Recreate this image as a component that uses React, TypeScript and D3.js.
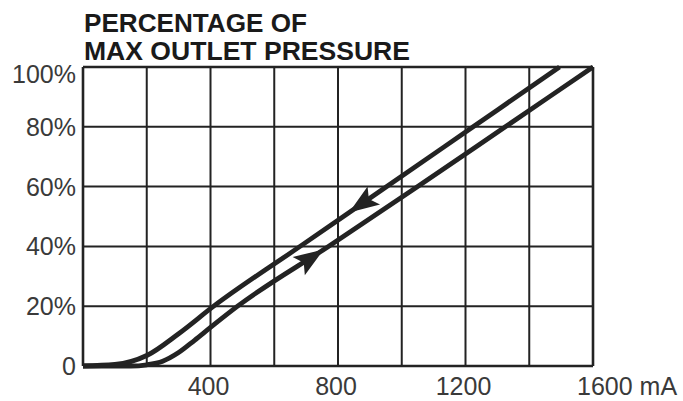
import * as d3 from "d3";

// readings taken off the printed curve (mA vs % of max outlet pressure)
const risingCurrent = [0, 150, 200, 250, 300, 350, 400, 485, 770, 1050, 1325, 1600];
const risingPressure = [0, 0, 0.4, 1.6, 4.5, 8.6, 12.9, 20, 40, 60, 80, 100];
const fallingCurrent = [0, 100, 200, 300, 410, 681, 953, 1224, 1495];
const fallingPressure = [0, 0.5, 3.5, 10.8, 20, 40, 60, 80, 100];

const currentGrid = [0, 200, 400, 600, 800, 1000, 1200, 1400, 1600];
const currentTicks = [400, 800, 1200];
const pressureTicks = [0, 20, 40, 60, 80, 100];
const pressureLabels = ["0", "20%", "40%", "60%", "80%", "100%"];
const titleLines = ["PERCENTAGE OF", "MAX OUTLET PRESSURE"];

const risingArrowAt = 750;
const fallingArrowAt = 840;

const width = 683;
const height = 401;
const ink = "#232323";

function App() {
	const x = d3.scaleLinear().domain([0, 1600]).range([83, 593]);
	const y = d3.scaleLinear().domain([0, 100]).range([366, 67]);

	const line = d3
		.line<[number, number]>()
		.x((d) => x(d[0]))
		.y((d) => y(d[1]))
		.curve(d3.curveMonotoneX);

	const rising: [number, number][] = risingCurrent.map((c, i) => [c, risingPressure[i]]);
	const falling: [number, number][] = fallingCurrent.map((c, i) => [c, fallingPressure[i]]);

	function valueAt(curve: [number, number][], c: number) {
		const cs = curve.map((d) => d[0]);
		const ps = curve.map((d) => d[1]);
		return d3.scaleLinear().domain(cs).range(ps)(c);
	}

	function arrow(curve: [number, number][], c: number, forward: boolean) {
		const px = x(c);
		const py = y(valueAt(curve, c));
		const qx = x(c + 40);
		const qy = y(valueAt(curve, c + 40));
		let angle = (Math.atan2(qy - py, qx - px) * 180) / Math.PI;
		if (!forward) angle += 180;
		// tip at origin, pointing along +x
		const path = "M2,0 L-28,-11 L-22,0 L-28,11 Z";
		return (
			<path
				d={path}
				fill={ink}
				transform={`translate(${px},${py}) rotate(${angle})`}
			/>
		);
	}

	return (
		<div style={{ position: "absolute", left: 0, top: 0 }}>
			<svg width={width} height={height} style={{ display: "block", background: "#fff" }}>
				<g fontFamily="'Liberation Sans', Arial, sans-serif">
					{titleLines.map((t, i) => (
						<text
							key={t}
							x={84}
							y={32 + i * 28}
							fontSize={26}
							fontWeight="bold"
							fill="#1a1a1a"
							textLength={i === 0 ? 223 : 326}
							lengthAdjust="spacingAndGlyphs"
						>
							{t}
						</text>
					))}

					{currentGrid.map((c) => (
						<line
							key={"v" + c}
							x1={x(c)}
							x2={x(c)}
							y1={y(0)}
							y2={y(100)}
							stroke={ink}
							strokeWidth={c === 0 || c === 1600 ? 2.6 : 2}
						/>
					))}
					{pressureTicks.map((p) => (
						<line
							key={"h" + p}
							x1={x(0)}
							x2={x(1600)}
							y1={y(p)}
							y2={y(p)}
							stroke={ink}
							strokeWidth={p === 0 || p === 100 ? 2.6 : 2}
						/>
					))}

					{pressureTicks.map((p, i) => (
						<text
							key={"yl" + p}
							x={76}
							y={y(p) + (p === 100 ? 16 : 9)}
							textAnchor="end"
							fontSize={25}
							fill="#3a3a3a"
						>
							{pressureLabels[i]}
						</text>
					))}
					{currentTicks.map((c) => (
						<text
							key={"xl" + c}
							x={x(c) - 2}
							y={395}
							textAnchor="middle"
							fontSize={25}
							fill="#3a3a3a"
						>
							{c}
						</text>
					))}
					<text x={x(1600) - 16} y={395} fontSize={25} fill="#3a3a3a">
						1600 mA
					</text>

					<path d={line(rising) || ""} fill="none" stroke={ink} strokeWidth={4.8} />
					<path d={line(falling) || ""} fill="none" stroke={ink} strokeWidth={4.8} />
					{arrow(rising, risingArrowAt, true)}
					{arrow(falling, fallingArrowAt, false)}
				</g>
			</svg>
		</div>
	);
}

export default App;
